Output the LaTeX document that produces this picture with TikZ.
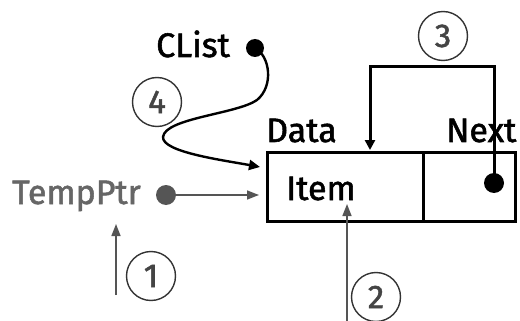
\documentclass[tikz,border=0pt]{standalone}
\usepackage{fontspec}
\setmainfont{Fira Sans}
\newfontfamily\medfont{Fira Sans}[FakeBold=1.6]
\usetikzlibrary{arrows.meta}
\definecolor{txtgray}{HTML}{666666}
\definecolor{lngray}{HTML}{555555}
\definecolor{numgray}{HTML}{444444}
\tikzset{
  lbl/.style={inner sep=0pt, anchor=base west, font=\fontsize{34}{34}\medfont},
  num/.style={circle, draw=black!80, line width=1.4pt, minimum size=49pt, inner sep=0pt,
              text=numgray, font=\fontsize{33}{33}\medfont},
  cell/.style={draw, line width=3pt, minimum height=69pt, inner sep=0pt},
  bdot/.style={circle, fill, inner sep=0pt, minimum size=#1},
  thk/.style={line width=3pt, -{Triangle[length=10pt,width=10pt]}},
  gry/.style={draw=lngray, line width=1.6pt, -{Triangle[length=12pt,width=9pt]}, color=lngray},
}
\begin{document}
\begin{tikzpicture}[x=1pt,y=-1pt]
\useasboundingbox (0,0) rectangle (520,321);
% list node cells
\node[cell, minimum width=156pt] (data) at (345,186.5) {};
\node[cell, minimum width=92pt] (next) at (469,186.5) {};
% labels
\node[lbl] (clist) at (156,57) {CList};
\node[lbl] (datal) at (266,142) {Data};
\node[lbl] (nextl) at (446,142) {Next};
\node[lbl] (item) at (286,200) {Item};
\node[lbl, text=txtgray] (temp) at (12,204) {TempPtr};
% dots
\node[bdot=18pt] (cdot) at (255,48) {};
\node[bdot=20pt] (ndot) at (494,183) {};
\node[bdot=20pt, fill=lngray] (tdot) at (166,195) {};
% numbered circles
\node[num] (n1) at (151,276) {1};
\node[num] (n2) at (376,297) {2};
\node[num] (n3) at (443,36) {3};
\node[num] (n4) at (157,102) {4};
% connector ends
\coordinate (e3) at (370,150);
\coordinate (e4) at (260,167);
\coordinate (e1s) at (116,295);
\coordinate (e1t) at (116,224);
\coordinate (e2s) at (347,321);
\coordinate (e2t) at (347,204);
\coordinate (etp) at (259,195);
% connector 3
\draw[thk] (ndot.center) -- (494,67) -- (370,67) -- (e3);
% connector 4
\draw[line width=2.4pt, -{Triangle[length=11pt,width=10pt]}]
  (cdot.center) .. controls (270,56) and (274,86) .. (257,100)
  .. controls (237,114) and (165,118) .. (163,137)
  .. controls (162,152) and (222,160) .. (e4);
% gray connectors
\draw[gry] (tdot) -- (etp);
\draw[gry] (e1s) -- (e1t);
\draw[gry] (e2s) -- (e2t);
\end{tikzpicture}
\end{document}
